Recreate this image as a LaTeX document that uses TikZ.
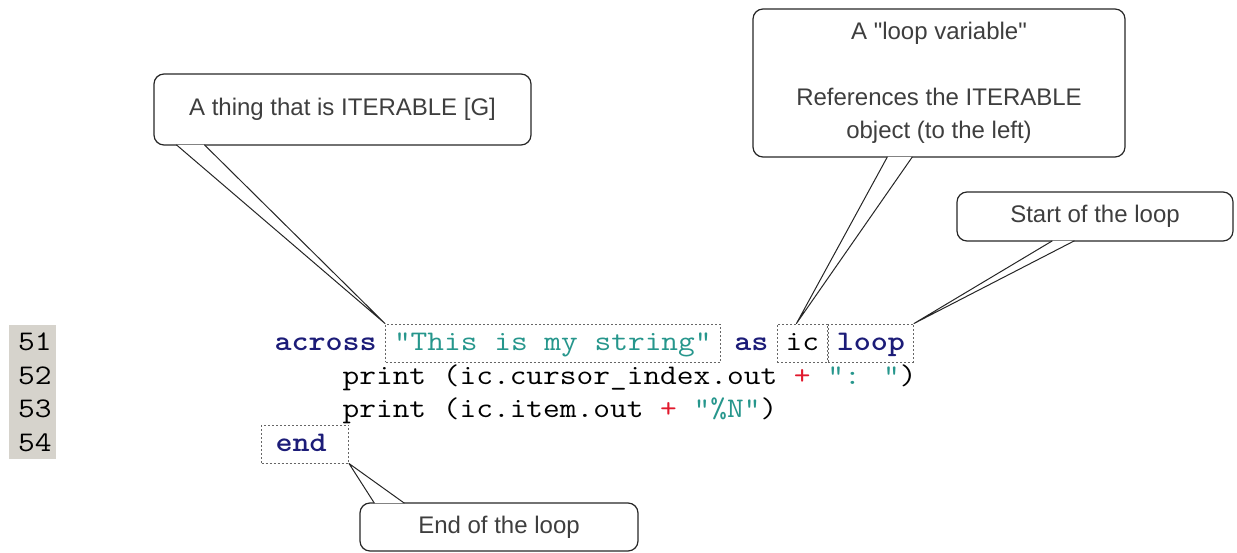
\documentclass[tikz,border=0pt]{standalone}
\usepackage{fontspec}
\newfontfamily\notefont{Liberation Sans}
\definecolor{kwblue}{RGB}{28,28,120}
\definecolor{strteal}{RGB}{38,150,140}
\definecolor{opred}{RGB}{225,25,45}
\definecolor{notegray}{RGB}{62,62,62}
\definecolor{guttergray}{RGB}{214,211,204}
\newcommand{\kw}[1]{\textcolor{kwblue}{\bfseries #1}}
\newcommand{\strlit}[1]{\textcolor{strteal}{#1}}
\newcommand{\op}[1]{\textcolor{opred}{#1}}
\newcommand{\cd}[1]{\scalebox{1.143}[1]{#1}}

\begin{document}
\begin{tikzpicture}[x=1pt,y=-1pt,
    code/.style={font=\ttfamily\fontsize{28.4}{33}\selectfont,inner sep=0pt,
        text height=20pt,text depth=6pt,anchor=base west},
    tokbox/.style={code,draw=black!60,line width=1pt,dash pattern=on 2pt off 2pt,
        inner xsep=8.5pt,inner ysep=6pt},
    note/.style={font=\notefont\fontsize{24}{33}\selectfont,text=notegray,draw=black!85,
        line width=1.2pt,rounded corners=10pt,inner sep=0pt,align=center},
    tail/.style={draw=black!85,line width=1pt,fill=white,line join=round}]
    \useasboundingbox (0,0) rectangle (1237,552);

    % Margen con numeros de linea
    \fill[guttergray] (9,325) rectangle (56,459);
    \foreach \n/\y in {51/350,52/384,53/417,54/451} {
        \node[code] (num\n) at (18,\y) {\cd{\n}};
    }

    % Codigo
    \node[code] (across) at (274.3,350) {\cd{\kw{across}}};
    \node[tokbox] (iter) at (385,350) {\cd{\strlit{"This is my string"}}};
    \node[code] (as) at (734.1,350) {\cd{\kw{as}}};
    \node[tokbox] (ic) at (776.7,350) {\cd{ic}};
    \node[tokbox] (loop) at (827.8,350) {\cd{\kw{loop}}};
    \node[code] (line52) at (342.4,384)
        {\cd{print (ic.cursor\_index.out \op{+} \strlit{": "})}};
    \node[code] (line53) at (342.4,417)
        {\cd{print (ic.item.out \op{+} \strlit{"\%N"})}};
    \node[tokbox,inner xsep=14pt,text width=59pt] (end) at (261,451) {\cd{\kw{end}}};

    % Notas
    \node[note,minimum width=377pt,minimum height=71pt] (thingnote) at (342.5,109.5)
        {A thing that is ITERABLE [G]};
    \node[note,minimum width=372pt,minimum height=148pt] (varnote) at (939,83)
        {A "loop variable"\\[33pt]References the ITERABLE\\object (to the left)};
    \node[note,minimum width=276pt,minimum height=49pt] (startnote) at (1095,216.5)
        {Start of the loop};
    \node[note,minimum width=278pt,minimum height=48pt] (endnote) at (499,527)
        {End of the loop};

    % Colas
    \path[tail] ([xshift=23pt,yshift=0.8pt]thingnote.south west) -- (iter.north west)
        -- ([xshift=51pt,yshift=0.8pt]thingnote.south west);
    \path[tail] ([xshift=135pt,yshift=0.8pt]varnote.south west) -- ([xshift=-6pt]ic.north)
        -- ([xshift=160pt,yshift=0.8pt]varnote.south west);
    \path[tail] ([xshift=96pt,yshift=0.8pt]startnote.south west) -- (loop.north east)
        -- ([xshift=118pt,yshift=0.8pt]startnote.south west);
    \path[tail] ([xshift=15pt,yshift=-0.8pt]endnote.north west) -- (end.south east)
        -- ([xshift=45pt,yshift=-0.8pt]endnote.north west);
\end{tikzpicture}
\end{document}
